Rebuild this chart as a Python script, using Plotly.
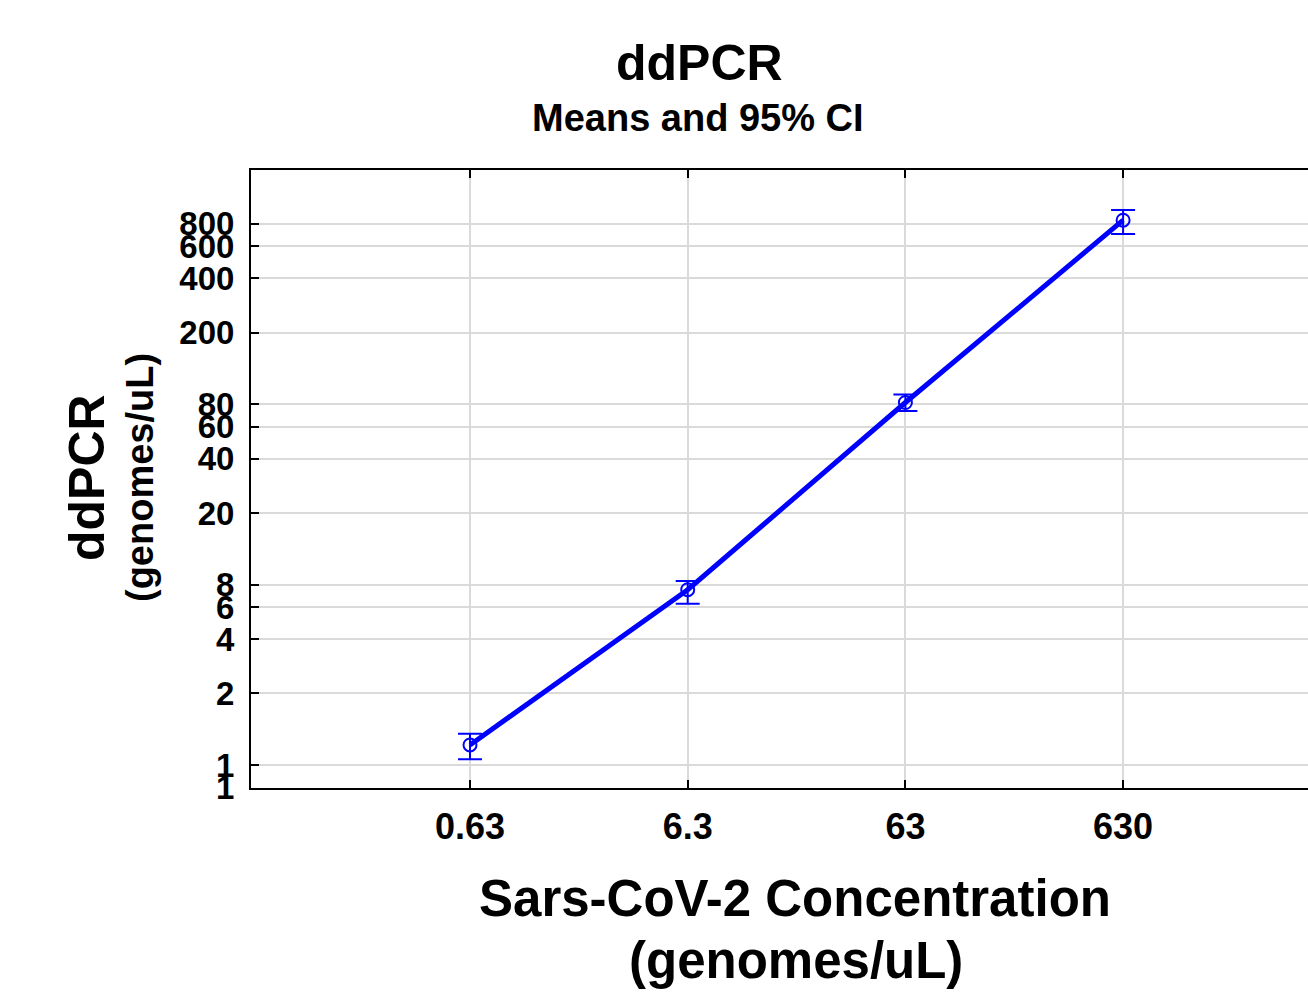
import plotly.graph_objects as go

# ---- data ----
concentrations = ["0.63", "6.3", "63", "630"]
means = [1.036, 7.51, 81.9, 839]
ci_upper = [1.196, 8.39, 90.7, 957]
ci_lower = [0.862, 6.28, 73.4, 704]
y_tickvals = [0.6, 0.8, 2, 4, 6, 8, 20, 40, 60, 80, 200, 400, 600, 800]
y_ticktext = ["1", "1", "2", "4", "6", "8", "20", "40", "60", "80", "200", "400", "600", "800"]

W, H = 1308, 992
L, R, T, B = 251, 0, 170, 204
PW, PH = W - L - R, H - T - B

def px(x):
    return (x - L) / PW

def py(y):
    return (H - B - y) / PH

xi = list(range(len(concentrations)))
err_plus = [u - m for u, m in zip(ci_upper, means)]
err_minus = [m - l for m, l in zip(means, ci_lower)]

BLUE = "#0000ff"
FONT = "Liberation Sans, Arial, sans-serif"

fig = go.Figure()
fig.add_trace(go.Scatter(
    x=xi, y=means, mode="lines+markers",
    line=dict(color=BLUE, width=5),
    marker=dict(symbol="circle-open", size=13, color=BLUE, line=dict(width=2, color=BLUE)),
    error_y=dict(type="data", symmetric=False, array=err_plus, arrayminus=err_minus,
                 color=BLUE, thickness=2, width=12),
    showlegend=False, cliponaxis=False,
))

spacing = 217.7
x0 = -(470 - L) / spacing
x1 = x0 + PW / spacing

fig.update_layout(
    width=W, height=H,
    margin=dict(l=L, r=R, t=T, b=B),
    paper_bgcolor="white", plot_bgcolor="white",
    font=dict(family=FONT, color="black"),
    xaxis=dict(
        range=[x0, x1], tickvals=xi, ticktext=concentrations,
        showgrid=True, gridcolor="#dadada", gridwidth=2,
        showline=True, linecolor="black", linewidth=2, mirror="ticks",
        ticks="inside", ticklen=8, tickwidth=2, tickcolor="black",
        tickfont=dict(size=36, family=FONT, weight="bold"),
        ticklabelstandoff=6, zeroline=False,
    ),
    yaxis=dict(
        type="log", range=[-0.2233, 3.202],
        tickvals=y_tickvals, ticktext=y_ticktext,
        showgrid=True, gridcolor="#dadada", gridwidth=2,
        showline=True, linecolor="black", linewidth=2, mirror=False,
        ticks="inside", ticklen=8, tickwidth=2, tickcolor="black",
        tickfont=dict(size=33, family=FONT, weight="bold"),
        ticklabelstandoff=8, zeroline=False,
    ),
)

ann = [
    dict(text="<b>ddPCR</b>", x=px(699), y=py(63), size=50, angle=0),
    dict(text="<b>Means and 95% CI</b>", x=px(698), y=py(118), size=38, angle=0),
    dict(text="<b>Sars-CoV-2 Concentration</b>", x=px(795), y=py(898), size=51, angle=0),
    dict(text="<b>(genomes/uL)</b>", x=px(796), y=py(960), size=51, angle=0),
    dict(text="<b>ddPCR</b>", x=px(87), y=py(478), size=50, angle=-90),
    dict(text="<b>(genomes/uL)</b>", x=px(140), y=py(478), size=38, angle=-90),
]
for a in ann:
    fig.add_annotation(text=a["text"], x=a["x"], y=a["y"], xref="paper", yref="paper",
                       xanchor="center", yanchor="middle", showarrow=False,
                       textangle=a["angle"], font=dict(size=a["size"], family=FONT, color="black"))

fig.write_html("out.html")
